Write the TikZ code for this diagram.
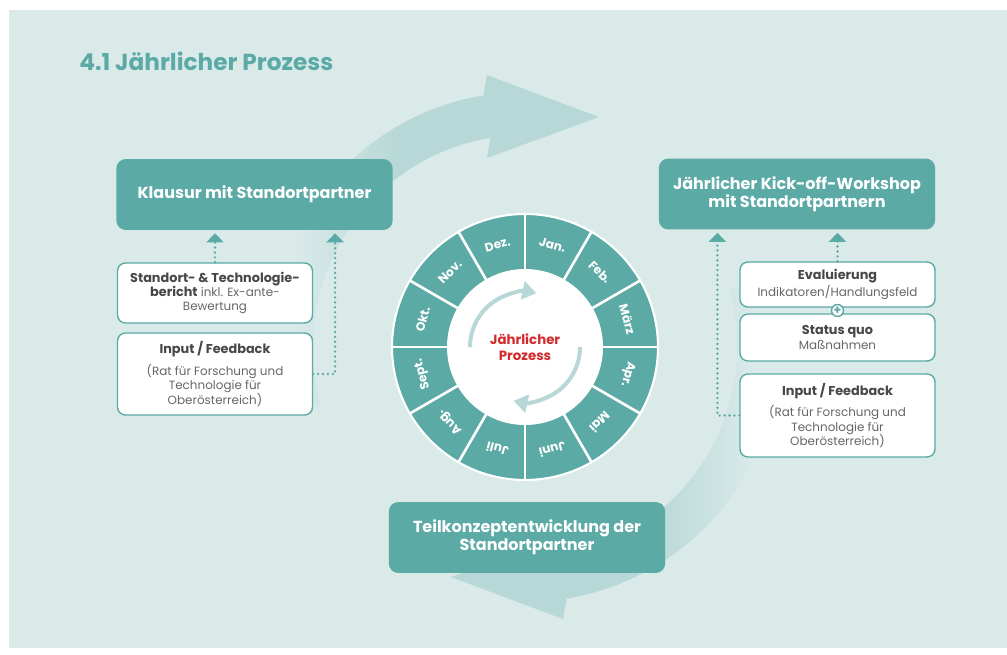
\documentclass[tikz,border=0pt]{standalone}
\usepackage{fontspec}
\setmainfont{Poppins}
\usetikzlibrary{arrows.meta,calc}
\definecolor{bgcol}{HTML}{D9EAE9}
\definecolor{bandcol}{HTML}{B7D8D6}
\definecolor{boxteal}{HTML}{5BAAA5}
\definecolor{headgray}{HTML}{474747}
\definecolor{bodygray}{HTML}{666666}
\definecolor{procred}{HTML}{D32A2E}
\pgfdeclarehorizontalshading{bandfade}{100bp}{color(0bp)=(bgcol); color(31bp)=(bgcol); color(46bp)=(bandcol); color(100bp)=(bandcol)}
\newcommand\hd[1]{{\fontsize{7.3}{8.3}\selectfont\textbf{\color{headgray}#1}}}

\begin{document}
\begin{tikzpicture}[x=0.02cm,y=-0.02cm,>={Triangle[width=0.34cm,length=0.18cm]},
  main box/.style={rectangle,rounded corners=5.5pt,fill=boxteal,text=white,align=center,minimum width=5.53cm,minimum height=1.42cm,font=\fontsize{9.1}{10.2}\selectfont\bfseries},
  info box/.style={rectangle,rounded corners=4.5pt,draw=boxteal,line width=0.8pt,fill=white,text=bodygray,align=center,minimum width=3.9cm,inner sep=2pt,font=\fontsize{6.8}{8.2}\selectfont},
  plus node/.style={circle,draw=boxteal,line width=0.8pt,fill=white,text=boxteal,minimum size=0.24cm,inner sep=0pt,font=\fontsize{7}{7}\selectfont\bfseries},
  feed/.style={draw=boxteal,line width=1.5pt,line cap=round,dash pattern=on 0pt off 2.8pt,shorten >=0.06cm,->},
  month/.style={text=white,inner sep=0pt,font=\fontsize{6.9}{7}\selectfont\bfseries},
  inner arrow/.style={draw=bandcol,line width=2.3pt,-{Triangle[width=0.36cm,length=0.28cm]}}]

  \useasboundingbox (0,0) rectangle (1007,655);
  \fill[bgcol] (9,10) rectangle (1007,648);
  \coordinate (C) at (525,347);

  \shade[shading=bandfade] ($(C)+(-196:255)$) arc[start angle=-196,end angle=-99.4,radius=255] -- (487,75) -- (599,117) -- (487,158) -- ($(C)+(-99.4:212)$) arc[start angle=-99.4,end angle=-196,radius=212] -- cycle;
  \shade[shading=bandfade,shading angle=180] ($(C)+(-16:255)$) arc[start angle=-16,end angle=80.6,radius=255] -- (563,619) -- (451,577) -- (563,536) -- ($(C)+(80.6:212)$) arc[start angle=80.6,end angle=-16,radius=212] -- cycle;

  \node[anchor=base west,inner sep=0pt,text=boxteal,font=\fontsize{13.2}{15}\selectfont\bfseries] (title) at (79,71) {4.1 Jährlicher Prozess};

  \fill[boxteal] (C) circle[radius=133];
  \draw[white,line width=1.2pt] (C) circle[radius=133];
  \foreach \a in {0,30,...,330}
    \draw[white,line width=1.5pt] ($(C)+(\a:78)$) -- ($(C)+(\a:133)$);
  \fill[white] (C) circle[radius=78];
  \foreach \m/\a [count=\i] in {Jan./75,Feb./45,März/15,Apr./-15,Mai/-45,Juni/-75,Juli/-105,Aug./-135,Sept./-165,Okt./165,Nov./135,Dez./105}
    \node[month,rotate=\a-90] (month\i) at ($(C)+(-\a:106)$) {\m};
  \draw[inner arrow] ($(C)+(-180:55)$) arc[start angle=-180,end angle=-78,radius=55];
  \draw[inner arrow] ($(C)+(0:55)$) arc[start angle=0,end angle=102,radius=55];
  \node[text=procred,align=center,font=\fontsize{7.6}{8.8}\selectfont\bfseries] (proc) at (C) {Jährlicher\\Prozess};

  \node[main box] (klausur) at (254.5,194.5) {Klausur mit Standortpartner};
  \node[main box] (kickoff) at (797,194) {Jährlicher Kick-off-Workshop\\mit Standortpartnern};
  \node[main box] (teil) at (527,537.5) {Teilkonzeptentwicklung der\\Standortpartner};

  \node[info box,minimum height=1.2cm] (bericht) at (215,293) {\hd{Standort- \& Technologie-}\\\hd{bericht} inkl. Ex-ante-\\Bewertung};
  \node[info box,minimum height=1.64cm] (inputL) [below of=bericht,node distance=1.62cm] {\hd{Input / Feedback}\\[3pt](Rat für Forschung und\\Technologie für\\Oberösterreich)};
  \node[info box,minimum height=0.9cm] (eval) at (837.5,284.5) {\hd{Evaluierung}\\Indikatoren/Handlungsfeld};
  \node[info box,minimum height=0.94cm] (status) [below of=eval,node distance=1.06cm] {\hd{Status quo}\\Maßnahmen};
  \node[info box,minimum height=1.66cm] (inputR) [below of=status,node distance=1.56cm] {\hd{Input / Feedback}\\[3pt](Rat für Forschung und\\Technologie für\\Oberösterreich)};
  \node[plus node] (plus) at ($(eval.south)!0.5!(status.north)$) {+};

  \path (bericht) edge[feed] (bericht.north |- klausur.south)
        (eval) edge[feed] (eval.north |- kickoff.south);
  \draw[feed] (inputL.east) -| ($(klausur.south east)+(-58,0)$);
  \draw[feed] (inputR.west) -| ($(kickoff.south west)+(59,0)$);

\end{tikzpicture}
\end{document}
